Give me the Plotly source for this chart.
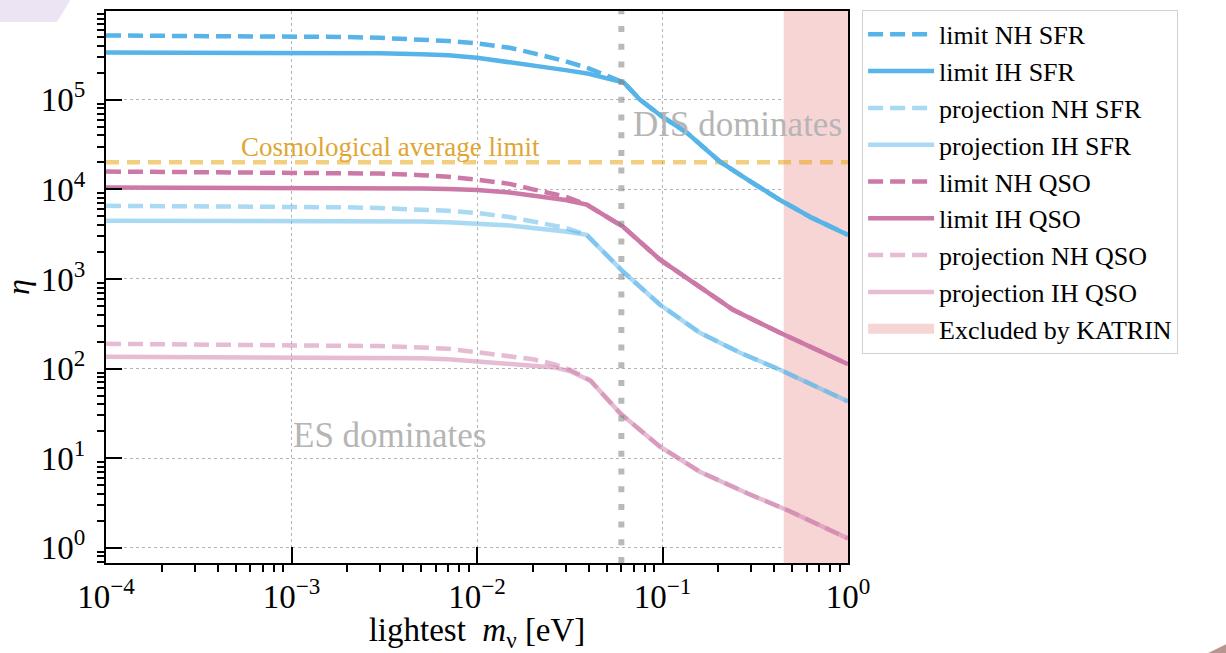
import numpy as np
import plotly.graph_objects as go

# ---------------------------------------------------------------------------
# Data: eta versus lightest neutrino mass m_nu [eV]
# ---------------------------------------------------------------------------
m_limit_nh_sfr = [1e-4, 1e-3, 2e-3, 3e-3, 5e-3, 7e-3, 1e-2, 1.5e-2, 2e-2, 3e-2, 4e-2, 5e-2, 0.062,
                  0.0757, 0.0993, 0.1355, 0.204, 0.286, 0.43, 0.64, 1.0]
eta_limit_nh_sfr = [5.21e5, 5.11e5, 5.01e5, 4.9e5, 4.7e5, 4.52e5, 4.25e5, 3.8e5, 3.31e5, 2.69e5,
                    2.24e5, 1.86e5, 1.55e5,
                    1.0e5, 6.5e4, 4.27e4, 2.04e4, 1.29e4, 7.6e3, 4.8e3, 3.1e3]

m_limit_ih_sfr = [1e-4, 1e-3, 2e-3, 3e-3, 5e-3, 7e-3, 1e-2, 1.5e-2, 2e-2, 3e-2, 4e-2, 5e-2, 0.062,
                  0.0757, 0.0993, 0.1355, 0.204, 0.286, 0.43, 0.64, 1.0]
eta_limit_ih_sfr = [3.36e5, 3.36e5, 3.33e5, 3.30e5, 3.22e5, 3.13e5, 2.94e5, 2.63e5, 2.43e5, 2.14e5,
                    1.95e5, 1.76e5, 1.55e5,
                    1.0e5, 6.5e4, 4.27e4, 2.04e4, 1.29e4, 7.6e3, 4.8e3, 3.1e3]

m_proj_nh_sfr = [1e-4, 1e-3, 2e-3, 3e-3, 5e-3, 7e-3, 1e-2, 1.5e-2, 2e-2, 3e-2, 0.039,
                 0.0612, 0.097, 0.159, 0.262, 0.43, 1.0]
eta_proj_nh_sfr = [6.55e3, 6.46e3, 6.3e3, 6.17e3, 5.96e3, 5.75e3, 5.45e3, 4.9e3, 4.37e3, 3.72e3, 3.1e3,
                   1.21e3, 515, 251, 150, 97, 43]

m_proj_ih_sfr = [1e-4, 1e-3, 2e-3, 3e-3, 5e-3, 7e-3, 1e-2, 1.5e-2, 2e-2, 3e-2, 0.039,
                 0.0612, 0.097, 0.159, 0.262, 0.43, 1.0]
eta_proj_ih_sfr = [4.47e3, 4.47e3, 4.45e3, 4.42e3, 4.37e3, 4.29e3, 4.14e3, 3.94e3, 3.7e3, 3.39e3, 3.1e3,
                   1.21e3, 515, 251, 150, 97, 43]

m_limit_nh_qso = [1e-4, 1e-3, 2e-3, 3e-3, 5e-3, 7e-3, 1e-2, 1.5e-2, 2e-2, 3e-2, 0.039,
                  0.0612, 0.097, 0.1406, 0.24, 0.43, 1.0]
eta_limit_nh_qso = [1.58e4, 1.55e4, 1.52e4, 1.5e4, 1.44e4, 1.38e4, 1.28e4, 1.15e4, 1.0e4, 8.3e3, 6.75e3,
                    3.83e3, 1.64e3, 980, 453, 251, 112]

m_limit_ih_qso = [1e-4, 1e-3, 2e-3, 3e-3, 5e-3, 7e-3, 1e-2, 1.5e-2, 2e-2, 3e-2, 0.039,
                  0.0612, 0.097, 0.1406, 0.24, 0.43, 1.0]
eta_limit_ih_qso = [1.05e4, 1.045e4, 1.042e4, 1.035e4, 1.02e4, 1.007e4, 9.8e3, 9.2e3, 8.5e3, 7.6e3, 6.75e3,
                    3.83e3, 1.64e3, 980, 453, 251, 112]

m_proj_nh_qso = [1e-4, 1e-3, 2e-3, 3e-3, 5e-3, 7e-3, 1e-2, 1.5e-2, 2e-2, 2.6e-2, 3.2e-2, 0.037, 0.041,
                 0.059, 0.097, 0.159, 0.286, 0.469, 1.0]
eta_proj_nh_qso = [189, 184, 181, 178, 172, 166, 152, 138, 127, 112, 96, 83, 73,
                   31.8, 13.4, 7.06, 4.06, 2.64, 1.27]

m_proj_ih_qso = [1e-4, 1e-3, 2e-3, 3e-3, 5e-3, 7e-3, 1e-2, 1.5e-2, 2e-2, 2.6e-2, 3.2e-2, 0.037, 0.041,
                 0.059, 0.097, 0.159, 0.286, 0.469, 1.0]
eta_proj_ih_qso = [135, 134, 133.7, 132.7, 130, 127, 120, 115, 110, 103, 93, 82, 73,
                   31.8, 13.4, 7.06, 4.06, 2.64, 1.27]

COSMO_LIMIT = 2.0e4        # cosmological average limit on eta
REGIME_SPLIT = 0.06        # m_nu where DIS takes over from ES [eV]
KATRIN_LIMIT = 0.45        # KATRIN upper bound on m_nu [eV]

X_RANGE_LOG = [-4.0, 0.0]
Y_RANGE_LOG = [-0.17, 5.99]

x_major = [1e-4, 1e-3, 1e-2, 1e-1, 1e0]
x_major_text = ["10<sup>−4</sup>", "10<sup>−3</sup>", "10<sup>−2</sup>",
                "10<sup>−1</sup>", "10<sup>0</sup>"]
y_major = [1e0, 1e1, 1e2, 1e3, 1e4, 1e5]
y_major_text = ["10<sup>0</sup>", "10<sup>1</sup>", "10<sup>2</sup>",
                "10<sup>3</sup>", "10<sup>4</sup>", "10<sup>5</sup>"]

# ---------------------------------------------------------------------------
# Styling
# ---------------------------------------------------------------------------
BLUE = "#56b4e9"
PINK = "#cc79a7"
BLUE_LIGHT = "rgba(86,180,233,0.5)"
PINK_LIGHT = "rgba(204,121,167,0.5)"
COSMO_LINE = "rgba(230,159,0,0.5)"
COSMO_TEXT = "#dfa634"
KATRIN_FILL = "#f8d5d5"
SERIF = "Liberation Serif"
LW = 4.5
DASH = "15px,7px"

series = [
    ("limit NH SFR", m_limit_nh_sfr, eta_limit_nh_sfr, BLUE, DASH),
    ("limit IH SFR", m_limit_ih_sfr, eta_limit_ih_sfr, BLUE, "solid"),
    ("projection NH SFR", m_proj_nh_sfr, eta_proj_nh_sfr, BLUE_LIGHT, DASH),
    ("projection IH SFR", m_proj_ih_sfr, eta_proj_ih_sfr, BLUE_LIGHT, "solid"),
    ("limit NH QSO", m_limit_nh_qso, eta_limit_nh_qso, PINK, DASH),
    ("limit IH QSO", m_limit_ih_qso, eta_limit_ih_qso, PINK, "solid"),
    ("projection NH QSO", m_proj_nh_qso, eta_proj_nh_qso, PINK_LIGHT, DASH),
    ("projection IH QSO", m_proj_ih_qso, eta_proj_ih_qso, PINK_LIGHT, "solid"),
]

x_lo, x_hi = 10 ** X_RANGE_LOG[0], 10 ** X_RANGE_LOG[1]
y_lo, y_hi = 10 ** Y_RANGE_LOG[0], 10 ** Y_RANGE_LOG[1]

fig = go.Figure()

# KATRIN-excluded mass band
fig.add_trace(go.Scatter(
    x=[KATRIN_LIMIT, x_hi, x_hi, KATRIN_LIMIT, KATRIN_LIMIT],
    y=[y_lo, y_lo, y_hi, y_hi, y_lo],
    mode="lines", fill="toself", fillcolor=KATRIN_FILL,
    line=dict(width=0, color=KATRIN_FILL),
    showlegend=False, hoverinfo="skip",
))
# legend swatch for the band
fig.add_trace(go.Scatter(
    x=[None], y=[None], mode="lines", name="Excluded by KATRIN",
    line=dict(color=KATRIN_FILL, width=20), legendrank=2000,
))

# cosmological average limit
fig.add_trace(go.Scatter(
    x=[x_lo, x_hi], y=[COSMO_LIMIT, COSMO_LIMIT], mode="lines",
    line=dict(color=COSMO_LINE, width=LW, dash="13px,8px"),
    showlegend=False, hoverinfo="skip",
))

for rank, (name, m, eta, color, dash) in enumerate(series):
    fig.add_trace(go.Scatter(
        x=m, y=eta, mode="lines", name=name, legendrank=1000 + rank,
        line=dict(color=color, width=LW, dash=dash),
    ))

# ES / DIS boundary
fig.add_trace(go.Scatter(
    x=[REGIME_SPLIT, REGIME_SPLIT], y=[y_lo, y_hi], mode="lines",
    line=dict(color="rgba(128,128,128,0.55)", width=6, dash="6px,11.7px"),
    showlegend=False, hoverinfo="skip",
))

def minor_values(lo_exp, hi_exp):
    return [k * 10.0 ** e for e in range(lo_exp, hi_exp + 1) for k in range(2, 10)]

axis_common = dict(
    type="log", showline=True, linecolor="black", linewidth=2, mirror=True,
    ticks="inside", ticklen=16, tickwidth=2, tickcolor="black",
    showgrid=True, gridcolor="#b5b5b5", gridwidth=1, griddash="dot",
    zeroline=False, tickmode="array",
    tickfont=dict(family=SERIF, size=33, color="black"),
)

fig.update_xaxes(
    **axis_common, range=X_RANGE_LOG,
    tickvals=x_major, ticktext=x_major_text, ticklabelstandoff=3,
    minor=dict(tickmode="array", tickvals=minor_values(-4, -1), ticks="outside",
               ticklen=7, tickwidth=1.5, tickcolor="black", showgrid=False),
    title=dict(text="lightest  <i>m</i><sub>ν</sub> [eV]",
               font=dict(family=SERIF, size=33, color="black"), standoff=18),
)
fig.update_yaxes(
    **axis_common, range=Y_RANGE_LOG,
    tickvals=y_major, ticktext=y_major_text, ticklabelstandoff=12,
    minor=dict(tickmode="array", tickvals=minor_values(-1, 5), ticks="outside",
               ticklen=7, tickwidth=1.5, tickcolor="black", showgrid=False),
    title=dict(text="<i>η</i>", font=dict(family=SERIF, size=32, color="black"),
               standoff=20),
)

fig.add_annotation(x=np.log10(0.255), y=np.log10(5.3e4), text="DIS dominates",
                   showarrow=False, font=dict(family=SERIF, size=35, color="#b5b5b5"))
fig.add_annotation(x=np.log10(3.37e-3), y=np.log10(17.7), text="ES dominates",
                   showarrow=False, font=dict(family=SERIF, size=35, color="#b5b5b5"))
fig.add_annotation(x=np.log10(3.42e-3), y=np.log10(3.0e4), text="Cosmological average limit",
                   showarrow=False, font=dict(family=SERIF, size=27, color=COSMO_TEXT))

# slide corner accents
fig.add_shape(type="path", xref="paper", yref="paper", layer="above",
              path="M -0.16 1.04 L -0.039 1.04 L -0.066 0.98 L -0.16 0.98 Z",
              fillcolor="#ece4f2", line=dict(width=0))
fig.add_shape(type="path", xref="paper", yref="paper", layer="above",
              path="M 1.475 -0.17 L 1.52 -0.14 L 1.52 -0.17 Z",
              fillcolor="#b8968f", line=dict(width=0))

fig.update_layout(
    width=1226, height=653,
    margin=dict(l=106, r=378, t=11, b=90, autoexpand=False),
    paper_bgcolor="white", plot_bgcolor="white",
    font=dict(family=SERIF, color="black"),
    legend=dict(
        x=1.019, y=1.002, xanchor="left", yanchor="top",
        bgcolor="white", bordercolor="#d0d0d0", borderwidth=1,
        font=dict(family=SERIF, size=26, color="black"),
        tracegroupgap=0, itemwidth=66, maxheight=700,
    ),
    showlegend=True,
)

fig.write_html("out.html")
